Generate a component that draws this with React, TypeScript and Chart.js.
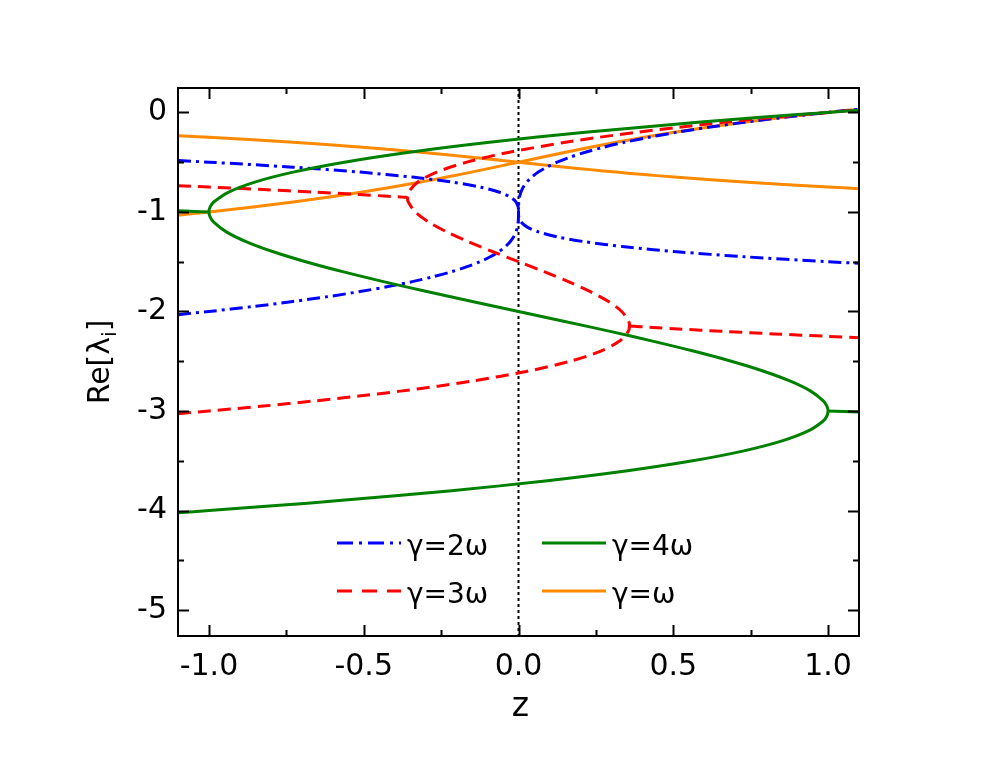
import React, { useEffect, useRef } from 'react';
import { Chart, registerables } from 'chart.js';

Chart.register(...registerables);

const FONT = "'DejaVu Sans', sans-serif";

// γ = 4ω (green)
const zG4Main = [-1.1, -1.0, -0.7824, -0.5795, -0.216, 0.0935, 0.352, 0.5625, 0.728, 0.8515, 0.936, 0.9845, 0.9962, 1.0, 0.9963, 0.9855, 0.944, 0.8785, 0.792, 0.6875, 0.568, 0.4365, 0.296, 0.1495, 0, -0.1495, -0.296, -0.4365, -0.568, -0.6875, -0.792, -0.8785, -0.944, -0.9855, -0.9963, -1.0, -0.9962, -0.9845, -0.936, -0.8515, -0.728, -0.5625, -0.352, -0.0935, 0.216, 0.5795, 0.7824, 1.0, 1.1];
const reG4Main = [-4.022, -4.0, -3.95, -3.9, -3.8, -3.7, -3.6, -3.5, -3.4, -3.3, -3.2, -3.1, -3.05, -3.0, -2.95, -2.9, -2.8, -2.7, -2.6, -2.5, -2.4, -2.3, -2.2, -2.1, -2.0, -1.9, -1.8, -1.7, -1.6, -1.5, -1.4, -1.3, -1.2, -1.1, -1.05, -1.0, -0.95, -0.9, -0.8, -0.7, -0.6, -0.5, -0.4, -0.3, -0.2, -0.1, -0.05, 0.0, 0.022];
const zG4PairL = [-1.1, -1.05, -1.0];
const reG4PairL = [-0.989, -0.9945, -1.0];
const zG4PairR = [1.0, 1.05, 1.1];
const reG4PairR = [-3.0, -3.0055, -3.011];

// γ = 2ω (blue)
const zG2Main = [-1.1, -1.0, -0.8574, -0.729, -0.6141, -0.512, -0.4219, -0.343, -0.2746, -0.216, -0.1664, -0.125, -0.0911, -0.064, -0.0429, -0.027, -0.0156, -0.008, -0.0034, -0.001, -0.0001, 0, 0.0001, 0.001, 0.0034, 0.008, 0.0156, 0.027, 0.0429, 0.064, 0.0911, 0.125, 0.1664, 0.216, 0.2746, 0.343, 0.4219, 0.512, 0.6141, 0.729, 0.8574, 1.0, 1.1];
const reG2Main = [-2.032, -2.0, -1.95, -1.9, -1.85, -1.8, -1.75, -1.7, -1.65, -1.6, -1.55, -1.5, -1.45, -1.4, -1.35, -1.3, -1.25, -1.2, -1.15, -1.1, -1.05, -1.0, -0.95, -0.9, -0.85, -0.8, -0.75, -0.7, -0.65, -0.6, -0.55, -0.5, -0.45, -0.4, -0.35, -0.3, -0.25, -0.2, -0.15, -0.1, -0.05, 0.0, 0.032];
const zG2Pair = [-1.1, -1.0, -0.729, -0.512, -0.343, -0.216, -0.125, -0.064, -0.027, -0.008, -0.001, -0.0001, 0, 0.0001, 0.001, 0.008, 0.027, 0.064, 0.125, 0.216, 0.343, 0.512, 0.729, 1.0, 1.1];
const reG2Pair = [-0.484, -0.5, -0.55, -0.6, -0.65, -0.7, -0.75, -0.8, -0.85, -0.9, -0.95, -0.975, -1.0, -1.025, -1.05, -1.1, -1.15, -1.2, -1.25, -1.3, -1.35, -1.4, -1.45, -1.5, -1.516];

// γ = 3ω (red)
const zG3Main = [-1.1, -1.0, -0.8241, -0.6627, -0.5153, -0.3813, -0.2604, -0.152, 0.0293, 0.1667, 0.264, 0.3253, 0.3547, 0.3586, 0.356, 0.3333, 0.2907, 0.232, 0.1613, 0.0827, 0, -0.0827, -0.1613, -0.232, -0.2907, -0.3333, -0.356, -0.3586, -0.3547, -0.3253, -0.264, -0.1667, -0.0293, 0.152, 0.2604, 0.3813, 0.5153, 0.6627, 0.8241, 1.0, 1.1];
const reG3Main = [-3.0267, -3.0, -2.95, -2.9, -2.85, -2.8, -2.75, -2.7, -2.6, -2.5, -2.4, -2.3, -2.2, -2.1455, -2.1, -2.0, -1.9, -1.8, -1.7, -1.6, -1.5, -1.4, -1.3, -1.2, -1.1, -1.0, -0.9, -0.8545, -0.8, -0.7, -0.6, -0.5, -0.4, -0.3, -0.25, -0.2, -0.15, -0.1, -0.05, 0.0, 0.0267];
const zG3PairL = [-1.1, -1.0, -0.8241, -0.6627, -0.5153, -0.4333, -0.4071, -0.3813, -0.3687, -0.3586];
const reG3PairL = [-0.7367, -0.75, -0.775, -0.8, -0.825, -0.84, -0.845, -0.85, -0.8525, -0.8545];
const zG3PairR = [0.3586, 0.3687, 0.3813, 0.4071, 0.4333, 0.5153, 0.6627, 0.8241, 1.0, 1.1];
const reG3PairR = [-2.1455, -2.1475, -2.15, -2.155, -2.16, -2.175, -2.2, -2.225, -2.25, -2.2633];

// γ = ω (orange)
const zG1 = [-1.1, -1.0, -0.85725, -0.728, -0.61075, -0.504, -0.40625, -0.316, -0.23175, -0.152, -0.07525, 0, 0.07525, 0.152, 0.23175, 0.316, 0.40625, 0.504, 0.61075, 0.728, 0.85725, 1.0, 1.1];
const reG1Real = [-1.0323, -1.0, -0.95, -0.9, -0.85, -0.8, -0.75, -0.7, -0.65, -0.6, -0.55, -0.5, -0.45, -0.4, -0.35, -0.3, -0.25, -0.2, -0.15, -0.1, -0.05, 0.0, 0.0323];
const reG1Pair = [-0.2339, -0.25, -0.275, -0.3, -0.325, -0.35, -0.375, -0.4, -0.425, -0.45, -0.475, -0.5, -0.525, -0.55, -0.575, -0.6, -0.625, -0.65, -0.675, -0.7, -0.725, -0.75, -0.7661];

// axes
const xMin = -1.1;
const xMax = 1.1;
const yMin = -5.26;
const yMax = 0.245;
const xMajorTicks = [-1.0, -0.5, 0.0, 0.5, 1.0];
const xMinorTicks = [-0.75, -0.25, 0.25, 0.75];
const yMajorTicks = [0, -1, -2, -3, -4, -5];
const yMinorTicks = [-0.5, -1.5, -2.5, -3.5, -4.5];
const refLineZ = 0;

const legendLabels = ['γ=2ω', 'γ=4ω', 'γ=3ω', 'γ=ω'];

const BLUE = '#0000FF';
const RED = '#FF0000';
const GREEN = '#008000';
const ORANGE = '#FF8A00';
const DASH_BLUE = [13, 5, 3, 5];
const DASH_RED = [13, 7];

const pts = (zs: number[], ys: number[]) => zs.map((x, i) => ({ x, y: ys[i] }));

const mk = (label: string, zs: number[], ys: number[], color: string, dash: number[], width: number) => ({
  label,
  data: pts(zs, ys),
  showLine: true,
  borderColor: color,
  backgroundColor: color,
  borderWidth: width,
  borderDash: dash,
  pointRadius: 0,
  pointHoverRadius: 0,
  tension: 0.3,
  fill: false,
});

const decorPlugin = {
  id: 'decor',
  beforeDatasetsDraw(chart: any) {
    const { ctx, chartArea: a, scales } = chart;
    const x0 = scales.x.getPixelForValue(refLineZ);
    ctx.save();
    ctx.strokeStyle = '#000';
    ctx.lineWidth = 2;
    ctx.setLineDash([3, 3]);
    ctx.beginPath();
    ctx.moveTo(x0, a.top);
    ctx.lineTo(x0, a.bottom);
    ctx.stroke();
    ctx.restore();
  },
  afterDraw(chart: any) {
    const { ctx, chartArea: a, scales } = chart;
    ctx.save();
    ctx.strokeStyle = '#000';
    ctx.lineWidth = 2;
    ctx.setLineDash([]);
    const drawX = (vals: number[], len: number) => {
      vals.forEach((v) => {
        const px = Math.round(scales.x.getPixelForValue(v)) + 0.5;
        ctx.beginPath();
        ctx.moveTo(px, a.bottom);
        ctx.lineTo(px, a.bottom - len);
        ctx.moveTo(px, a.top);
        ctx.lineTo(px, a.top + len);
        ctx.stroke();
      });
    };
    const drawY = (vals: number[], len: number) => {
      vals.forEach((v) => {
        const py = Math.round(scales.y.getPixelForValue(v)) + 0.5;
        ctx.beginPath();
        ctx.moveTo(a.left, py);
        ctx.lineTo(a.left + len, py);
        ctx.moveTo(a.right, py);
        ctx.lineTo(a.right - len, py);
        ctx.stroke();
      });
    };
    drawX(xMajorTicks, 11);
    drawX(xMinorTicks, 6);
    drawY(yMajorTicks, 11);
    drawY(yMinorTicks, 6);
    ctx.strokeRect(a.left, a.top, a.right - a.left, a.bottom - a.top);

    // legend
    const samples = [
      { color: BLUE, dash: [16, 6, 3, 6], dx: 159, dy: 455 },
      { color: GREEN, dash: [], dx: 364, dy: 455 },
      { color: RED, dash: [15, 10], dx: 159, dy: 503 },
      { color: ORANGE, dash: [], dx: 364, dy: 503 },
    ];
    samples.forEach((s, i) => {
      const lx = a.left + s.dx;
      const ly = a.top + s.dy;
      ctx.strokeStyle = s.color;
      ctx.lineWidth = 3;
      ctx.setLineDash(s.dash);
      ctx.beginPath();
      ctx.moveTo(lx, ly);
      ctx.lineTo(lx + 64, ly);
      ctx.stroke();
      ctx.setLineDash([]);
      ctx.fillStyle = '#000';
      ctx.font = `28px ${FONT}`;
      ctx.textAlign = 'left';
      ctx.textBaseline = 'alphabetic';
      ctx.fillText(legendLabels[i], lx + 70, ly + 12);
    });

    // x title
    ctx.fillStyle = '#000';
    ctx.font = `33px ${FONT}`;
    ctx.textAlign = 'center';
    ctx.textBaseline = 'alphabetic';
    ctx.fillText('z', (a.left + a.right) / 2 + 2, 716);

    // y title with subscript
    ctx.save();
    ctx.translate(109, (a.top + a.bottom) / 2);
    ctx.rotate(-Math.PI / 2);
    const main = 'Re[λ';
    const sub = 'i';
    const close = ']';
    ctx.font = `30px ${FONT}`;
    const w1 = ctx.measureText(main).width;
    const w3 = ctx.measureText(close).width;
    ctx.font = `20px ${FONT}`;
    const w2 = ctx.measureText(sub).width;
    const total = w1 + w2 + w3;
    let cx = -total / 2;
    ctx.textAlign = 'left';
    ctx.font = `30px ${FONT}`;
    ctx.fillText(main, cx, 0);
    cx += w1;
    ctx.font = `20px ${FONT}`;
    ctx.fillText(sub, cx, 7);
    cx += w2;
    ctx.font = `30px ${FONT}`;
    ctx.fillText(close, cx, 0);
    ctx.restore();

    ctx.restore();
  },
};

export default function App() {
  const ref = useRef<HTMLCanvasElement | null>(null);
  useEffect(() => {
    if (!ref.current) return;
    Chart.defaults.font.family = FONT;
    const chart = new Chart(ref.current, {
      type: 'scatter',
      data: {
        datasets: [
          mk('γ=4ω', zG4Main, reG4Main, GREEN, [], 3),
          mk('γ=4ω', zG4PairL, reG4PairL, GREEN, [], 3),
          mk('γ=4ω', zG4PairR, reG4PairR, GREEN, [], 3),
          mk('γ=3ω', zG3Main, reG3Main, RED, DASH_RED, 3),
          mk('γ=3ω', zG3PairL, reG3PairL, RED, DASH_RED, 3),
          mk('γ=3ω', zG3PairR, reG3PairR, RED, DASH_RED, 3),
          mk('γ=2ω', zG2Main, reG2Main, BLUE, DASH_BLUE, 3),
          mk('γ=2ω', zG2Pair, reG2Pair, BLUE, DASH_BLUE, 3),
          mk('γ=ω', zG1, reG1Real, ORANGE, [], 3),
          mk('γ=ω', zG1, reG1Pair, ORANGE, [], 3),
        ] as any,
      },
      options: {
        animation: false,
        responsive: false,
        devicePixelRatio: 1,
        layout: { padding: { top: 88, right: 138, left: 0, bottom: 0 } },
        plugins: { legend: { display: false }, tooltip: { enabled: false } },
        events: [],
        scales: {
          x: {
            type: 'linear',
            min: xMin,
            max: xMax,
            grid: { display: false, drawTicks: false },
            border: { display: false },
            ticks: {
              stepSize: 0.5,
              includeBounds: false,
              autoSkip: false,
              maxRotation: 0,
              padding: 13,
              color: '#000',
              font: { family: FONT, size: 30 },
              callback: (v: any) => Number(v).toFixed(1),
            },
            afterFit: (s: any) => { s.height = 127; },
          },
          y: {
            type: 'linear',
            min: yMin,
            max: yMax,
            grid: { display: false, drawTicks: false },
            border: { display: false },
            ticks: {
              stepSize: 1,
              includeBounds: false,
              autoSkip: false,
              padding: 11,
              color: '#000',
              font: { family: FONT, size: 30 },
              callback: (v: any) => String(Math.round(Number(v))),
            },
            afterFit: (s: any) => { s.width = 178; },
          },
        },
      } as any,
      plugins: [decorPlugin],
    });
    return () => chart.destroy();
  }, []);
  return (
    <div style={{ position: 'fixed', left: 0, top: 0, width: 997, height: 763, background: '#fff' }}>
      <canvas ref={ref} width={997} height={763} style={{ display: 'block' }} />
    </div>
  );
}
